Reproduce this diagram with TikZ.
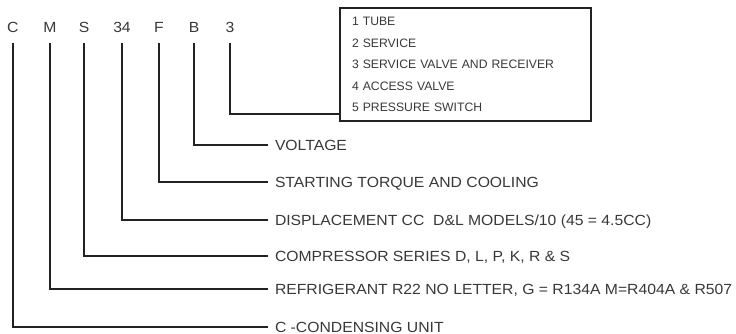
\documentclass[tikz,border=0pt]{standalone}
\usepackage{fontspec}
\setmainfont{Liberation Sans}
\newfontfamily\labfont[FakeStretch=1.07]{Liberation Sans}
\definecolor{ink}{HTML}{222222}
\definecolor{txt}{HTML}{383838}
\begin{document}
\begin{tikzpicture}[x=1pt,y=-1pt,
  conn/.style={draw=ink,line width=1.7pt},
  letter/.style={anchor=base,inner xsep=0pt,inner ysep=10pt,outer sep=0pt,text depth=0pt,
    text=txt,font=\labfont\fontsize{14.7}{18}\selectfont},
  lab/.style={anchor=west,inner xsep=7pt,inner ysep=0pt,outer sep=0pt,text height=10.5pt,text depth=0pt,
    text=txt,font=\labfont\fontsize{14.7}{18}\selectfont},
  listbox/.style={draw=ink,line width=1.7pt,anchor=north west,minimum width=251pt,minimum height=113pt,
    inner xsep=12pt,inner ysep=0pt,outer sep=0pt,align=left,text width=227pt,text=txt,
    font=\fontsize{12.2}{21.6}\selectfont}]
\useasboundingbox (0,0) rectangle (736,334);
% code letters
\node[letter] (lC) at (12.7,33) {C};
\node[letter] (lM) at (50,33) {M};
\node[letter] (lS) at (84,33) {S};
\node[letter] (l34) at (122,33) {34};
\node[letter] (lF) at (159,33) {F};
\node[letter] (lB) at (194,33) {B};
\node[letter] (l3) at (230,33) {3};
% list box
\node[listbox] (box) at (340,8) {\raisebox{-2pt}{}1 TUBE\\2 SERVICE\\3 SERVICE VALVE AND RECEIVER\\4 ACCESS VALVE\\5 PRESSURE SWITCH};
\coordinate (boxin) at ([yshift=7pt]box.south west);
% labels
\node[lab] (tB) at (268,145) {VOLTAGE};
\node[lab] (tF) at (268,182) {STARTING TORQUE AND COOLING};
\node[lab] (t34) at (268,220) {DISPLACEMENT CC\ \ D\&L MODELS/10 (45 = 4.5CC)};
\node[lab] (tS) at (268,256) {COMPRESSOR SERIES D, L, P, K, R \& S};
\node[lab] (tM) at (268,289) {REFRIGERANT R22 NO LETTER, G = R134A M=R404A \& R507};
\node[lab] (tC) at (268,327) {C -CONDENSING UNIT};
% connectors
\draw[conn] (l3.south) |- (boxin);
\draw[conn] (lB.south) |- (tB.west);
\draw[conn] (lF.south) |- (tF.west);
\draw[conn] (l34.south) |- (t34.west);
\draw[conn] (lS.south) |- (tS.west);
\draw[conn] (lM.south) |- (tM.west);
\draw[conn] (lC.south) |- (tC.west);
\end{tikzpicture}
\end{document}
